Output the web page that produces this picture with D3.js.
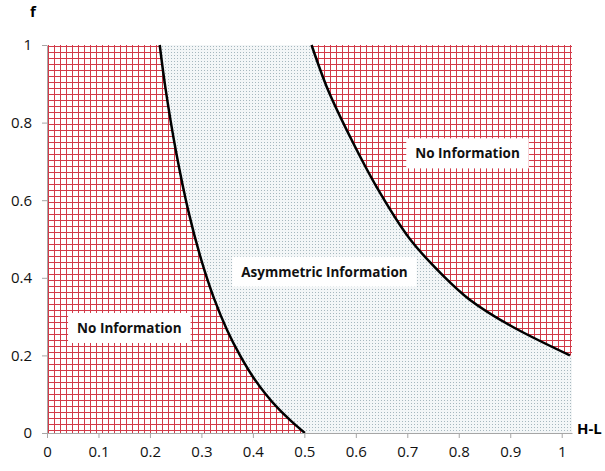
<!DOCTYPE html>
<html>
<head>
<meta charset="utf-8">
<script src="https://cdn.jsdelivr.net/npm/d3@7"></script>
<style>
  body { margin: 0; background: #fff; }
  text { font-family: "Open Sans", sans-serif; }
</style>
</head>
<body>
<div id="chart"></div>
<script>
// data
var xTicks = [0, 0.1, 0.2, 0.3, 0.4, 0.5, 0.6, 0.7, 0.8, 0.9, 1];
var yTicks = [0, 0.2, 0.4, 0.6, 0.8, 1];

// left boundary (H-L, f)
var leftH = [0.219, 0.23, 0.25, 0.275, 0.3, 0.325, 0.35, 0.375, 0.4, 0.425, 0.45, 0.475, 0.501];
var leftF = [1.0, 0.89, 0.73, 0.57, 0.445, 0.345, 0.265, 0.2, 0.145, 0.1, 0.062, 0.03, 0.0];

// right boundary (H-L, f)
var rightH = [0.514, 0.546, 0.592, 0.64, 0.705, 0.77, 0.82, 0.9, 1.016];
var rightF = [1.0, 0.884, 0.755, 0.635, 0.5, 0.405, 0.345, 0.277, 0.2];

var labelText = ["No Information", "No Information", "Asymmetric Information"];
var labelH = [0.16, 0.817, 0.539];
var labelF = [0.27, 0.72, 0.415];

var margin = {top: 45, right: 33, bottom: 38, left: 47},
    width = 605 - margin.left - margin.right,
    height = 471 - margin.top - margin.bottom;

var svg = d3.select("#chart")
    .append("svg")
    .attr("width", 605)
    .attr("height", 471);

var defs = svg.append("defs");
var dots = defs.append("pattern")
    .attr("id", "dots")
    .attr("patternUnits", "userSpaceOnUse")
    .attr("width", 3).attr("height", 3);
dots.append("rect").attr("width", 3).attr("height", 3).attr("fill", "#f3f6f7");
dots.append("rect").attr("x", 1).attr("y", 1).attr("width", 1).attr("height", 1).attr("fill", "#a6b7be");

var g = svg.append("g")
    .attr("transform", "translate(" + margin.left + "," + margin.top + ")");

var x = d3.scaleLinear().domain([0, 1.02]).range([0, width]);
var y = d3.scaleLinear().domain([0, 1]).range([height, 0]);

var left = leftH.map(function(d, i) { return [d, leftF[i]]; });
var right = rightH.map(function(d, i) { return [d, rightF[i]]; });

var line = d3.line()
    .x(function(d) { return x(d[0]); })
    .y(function(d) { return y(d[1]); })
    .curve(d3.curveCatmullRom.alpha(0.5));

// whole area dotted
g.append("rect")
    .attr("width", width).attr("height", height)
    .attr("fill", "url(#dots)");

// clip for the two "No Information" regions
var lastF = rightF[rightF.length - 1];
var clipD = line(left) + "L" + x(0) + "," + y(0) + "L" + x(0) + "," + y(1) + "Z" +
    line(right) + "L" + width + "," + y(lastF) + "L" + width + "," + y(1) + "Z";
defs.append("clipPath").attr("id", "noinfo")
    .append("path").attr("d", clipD);

var red = g.append("g").attr("clip-path", "url(#noinfo)");
red.append("rect").attr("width", width).attr("height", height).attr("fill", "#fff");
var step = 6;
var vx = d3.range(1, width, step), hy = d3.range(1, height, step);
red.selectAll(".v").data(vx).enter().append("line")
    .attr("x1", function(d) { return d + 0.5; })
    .attr("x2", function(d) { return d + 0.5; })
    .attr("y1", 0).attr("y2", height);
red.selectAll(".h").data(hy).enter().append("line")
    .attr("y1", function(d) { return d + 0.5; })
    .attr("y2", function(d) { return d + 0.5; })
    .attr("x1", 0).attr("x2", width);
red.selectAll("line")
    .attr("stroke", "#d23a48")
    .attr("stroke-width", 1)
    .attr("shape-rendering", "crispEdges");

// boundaries
[left, right].forEach(function(c) {
  g.append("path")
      .attr("d", line(c))
      .attr("fill", "none")
      .attr("stroke", "#000")
      .attr("stroke-width", 2.5);
});

// axes
var xAxis = g.append("g")
    .attr("transform", "translate(0," + height + ")")
    .call(d3.axisBottom(x).tickValues(xTicks).tickSize(5).tickPadding(8).tickSizeOuter(0)
      .tickFormat(d3.format("~g")));
var yAxis = g.append("g")
    .call(d3.axisLeft(y).tickValues(yTicks).tickSize(5).tickPadding(10).tickSizeOuter(0)
      .tickFormat(d3.format("~g")));
[xAxis, yAxis].forEach(function(a) {
  a.select(".domain").attr("stroke", "#a6a6a6");
  a.selectAll(".tick line").attr("stroke", "#a6a6a6");
  a.selectAll(".tick text").attr("font-size", 15).attr("font-family", "Open Sans").attr("fill", "#111");
});

// region labels on white boxes
labelText.forEach(function(s, i) {
  var lg = g.append("g");
  var t = lg.append("text")
      .attr("x", x(labelH[i])).attr("y", y(labelF[i]))
      .attr("text-anchor", "middle")
      .attr("dy", "0.35em")
      .attr("font-size", 13.5)
      .attr("font-weight", "bold")
      .attr("fill", "#111")
      .text(s);
  var b = t.node().getBBox();
  lg.insert("rect", ":first-child")
      .attr("x", b.x - 9).attr("y", b.y - 6)
      .attr("width", b.width + 18).attr("height", b.height + 12)
      .attr("fill", "#fff");
});

// axis titles
svg.append("text")
    .attr("x", 30).attr("y", 17)
    .attr("font-size", 15).attr("font-weight", "bold")
    .text("f");
svg.append("text")
    .attr("x", 577).attr("y", 434)
    .attr("font-size", 15).attr("font-weight", "bold")
    .text("H-L");
</script>
</body>
</html>
